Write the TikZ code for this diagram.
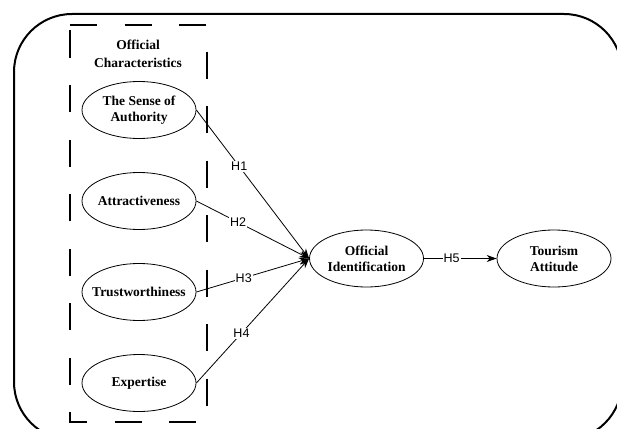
\documentclass[tikz,border=0pt]{standalone}
\usepackage{fontspec}
\setmainfont{Liberation Serif}
\newfontfamily\labfont{Liberation Sans}
\usetikzlibrary{arrows.meta,shapes.geometric}
\begin{document}
\begin{tikzpicture}[x=1pt,y=-1pt,
  ell/.style={ellipse, draw, line width=0.8pt, minimum width=114pt, minimum height=57pt, inner xsep=-12pt, inner ysep=0pt, align=center, font=\bfseries\fontsize{13.5}{16}\selectfont},
  hyp/.style={-{Stealth[length=10pt,width=7pt]}, line width=0.8pt},
  hl/.style={fill=white, inner sep=1pt, font=\labfont\fontsize{12.5}{13}\selectfont}]
\useasboundingbox (0,0) rectangle (617,428);
\begin{scope}
\clip (0,0) rectangle (617,428);
\draw[line width=2pt, rounded corners=58pt] (14,14) rectangle (622,440);
\end{scope}
\draw[line width=2.2pt, dash pattern=on 27pt off 27.5pt] (70,25) -- (207,25) -- (207,422) -- (70,422) -- cycle;
\node[align=center, font=\bfseries\fontsize{13.5}{18}\selectfont] (title) at (138,54) {Official\\Characteristics};
\node[ell] (auth) at (139,110) {The Sense of\\Authority};
\node[ell] (attr) at (139,201) {Attractiveness};
\node[ell] (trust) at (139,292) {Trustworthiness};
\node[ell] (exp) at (139,383) {Expertise};
\node[ell] (oid) at (366.5,258.5) {Official\\Identification};
\node[ell] (ta) at (554,258.5) {Tourism\\Attitude};
\draw[hyp] (auth.east) -- node[hl, pos=0.38] {H1} (oid.west);
\draw[hyp] (attr.east) -- node[hl, pos=0.37] {H2} (oid.west);
\draw[hyp] (trust.east) -- node[hl, pos=0.42] {H3} (oid.west);
\draw[hyp] (exp.east) -- node[hl, pos=0.4] {H4} (oid.west);
\draw[hyp] (oid.east) -- node[hl, pos=0.38] {H5} (ta.west);
\end{tikzpicture}
\end{document}
